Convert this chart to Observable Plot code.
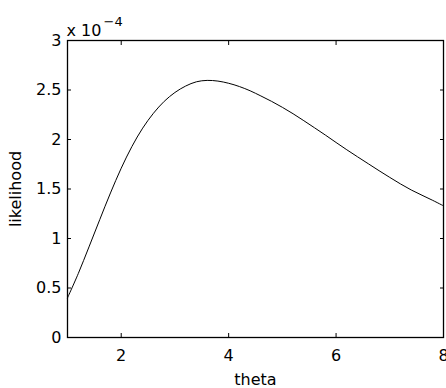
<!DOCTYPE html>
<html>
<head>
<meta charset="utf-8">
<script src="https://cdn.jsdelivr.net/npm/d3@7"></script>
<script src="https://cdn.jsdelivr.net/npm/@observablehq/plot@0.6"></script>
<style>
  body { margin: 0; background: #fff; }
</style>
</head>
<body>
<div id="chart"></div>
<script>
// Likelihood of the data as a function of theta
const theta = [1.0, 1.2, 1.4, 1.6, 1.8, 2.0, 2.2, 2.4, 2.6, 2.8, 3.0, 3.2, 3.4, 3.6, 3.8, 4.0, 4.2, 4.4,
               4.6, 4.8, 5.0, 5.2, 5.4, 5.6, 5.8, 6.0, 6.2, 6.4, 6.6, 6.8, 7.0, 7.2, 7.4, 7.6, 7.8, 8.0];
const likelihood = [0.40e-4, 0.645e-4, 0.915e-4, 1.19e-4, 1.46e-4, 1.71e-4, 1.93e-4, 2.115e-4, 2.265e-4,
                    2.385e-4, 2.475e-4, 2.54e-4, 2.583e-4, 2.597e-4, 2.59e-4, 2.568e-4, 2.535e-4, 2.492e-4,
                    2.44e-4, 2.385e-4, 2.325e-4, 2.26e-4, 2.19e-4, 2.118e-4, 2.045e-4, 1.97e-4, 1.896e-4,
                    1.825e-4, 1.755e-4, 1.685e-4, 1.617e-4, 1.551e-4, 1.49e-4, 1.437e-4, 1.385e-4, 1.33e-4];

const xTicks = [2, 4, 6, 8];
const yTicks = [0, 0.5e-4, 1e-4, 1.5e-4, 2e-4, 2.5e-4, 3e-4];
const yTickLabels = ["0", "0.5", "1", "1.5", "2", "2.5", "3"];
const exponentBase = "x 10";
const exponentPower = "\u22124";

const data = theta.map((t, i) => ({theta: t, likelihood: likelihood[i]}));
const blank = () => "";

const chart = Plot.plot({
  width: 446,
  height: 388,
  marginLeft: 67,
  marginTop: 40,
  marginRight: 3,
  marginBottom: 51,
  style: {fontFamily: "'DejaVu Sans', sans-serif", fontSize: "16px", color: "black", background: "white"},
  x: {domain: [1, 8]},
  y: {domain: [0, 3e-4]},
  marks: [
    // tick labels and axis titles
    Plot.axisX(xTicks, {anchor: "bottom", tickSize: 0, tickPadding: 12, label: "theta",
                        labelAnchor: "center", labelOffset: 47, labelArrow: "none"}),
    Plot.axisY(yTicks, {anchor: "left", tickSize: 0, tickPadding: 6,
                        tickFormat: d => yTickLabels[yTicks.indexOf(d)],
                        label: "likelihood", labelAnchor: "center", labelOffset: 58, labelArrow: "none"}),
    // inward tick marks on all four sides
    Plot.axisX(xTicks, {anchor: "bottom", tickSize: -4, tickFormat: blank, label: null}),
    Plot.axisX(xTicks, {anchor: "top", tickSize: -4, tickFormat: blank, label: null}),
    Plot.axisY(yTicks, {anchor: "left", tickSize: -4, tickFormat: blank, label: null}),
    Plot.axisY(yTicks, {anchor: "right", tickSize: -4, tickFormat: blank, label: null}),
    Plot.line(data, {x: "theta", y: "likelihood", stroke: "black", strokeWidth: 1, curve: "catmull-rom"}),
    Plot.frame({stroke: "black", strokeWidth: 1.3}),
    // scale exponent above the y axis
    Plot.text([exponentBase], {frameAnchor: "top-left", textAnchor: "start", lineAnchor: "bottom", dx: -1, dy: -5}),
    Plot.text([exponentPower], {frameAnchor: "top-left", textAnchor: "start", lineAnchor: "bottom", dx: 36, dy: -15, fontSize: 13})
  ]
});

document.getElementById("chart").appendChild(chart);
</script>
</body>
</html>
